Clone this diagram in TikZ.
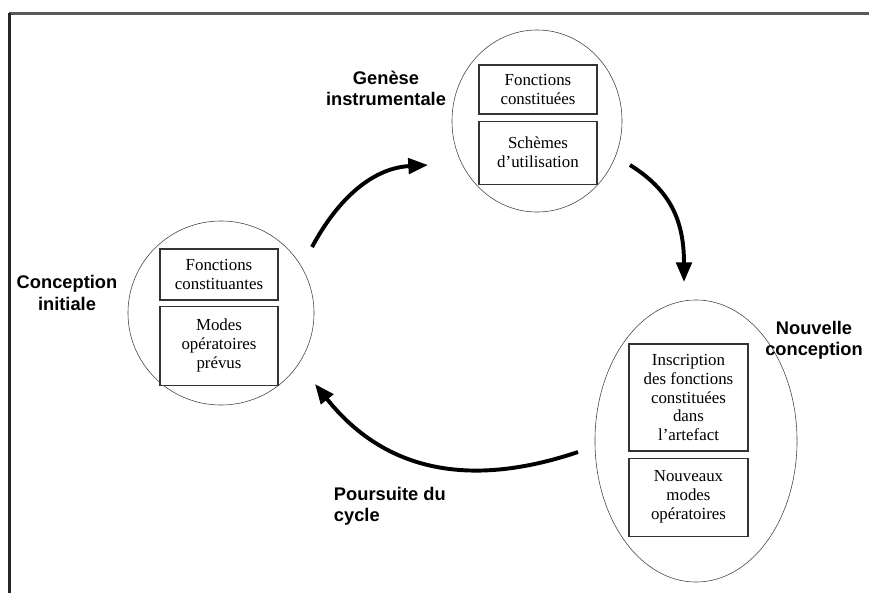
\documentclass[tikz,border=0pt]{standalone}
\usepackage{fontspec}
\setmainfont{Liberation Serif}
\setsansfont{Liberation Sans}
\usetikzlibrary{arrows.meta}
\usetikzlibrary{positioning, shapes.geometric}
\tikzset{
    every node/.style={font=\fontsize{12}{13.5}\selectfont},
    phase node/.style={draw=black!75, thin, ellipse, inner sep=0pt},
    box node/.style={draw=black!80, fill=white, line width=0.8pt, align=center, inner sep=0pt, minimum width=2.95cm},
    title node/.style={font=\sffamily\bfseries\fontsize{13}{15}\selectfont, align=center}
}

\begin{document}
\begin{tikzpicture}[
            x = 0.025cm, % one pixel
            y = -0.025cm, % y runs downwards
            node distance = 0.125cm, % gap between the boxes
            cycle arrow/.style={line width=2.8pt, -{Triangle[length=14pt,width=11pt]}}
        ]

        \useasboundingbox (0,0) rectangle (869,593);

        % frame
        \draw[black!65, line width=1.5pt] (9,13.5) -- (869,13.5);
        \draw[black!85, line width=1.5pt] (9.5,13) -- (9.5,593);

        \node[phase node, minimum width=4.65cm, minimum height=4.6cm] (E1) at (221,313) {};
        \node[phase node, minimum width=4.25cm, minimum height=4.55cm] (E2) at (537,121) {};
        \node[phase node, minimum width=5.05cm, minimum height=7.05cm] (E3) at (696,441) {};

        \node[box node, minimum height=1.275cm] (b1) at (219,274.5) {Fonctions\\constituantes};
        \node[box node, minimum height=1.975cm] [below=of b1] (b2) {Modes\\opératoires\\prévus};

        \node[box node, minimum height=1.225cm] (b3) at (538,89.5) {Fonctions\\constituées};
        \node[box node, minimum height=1.575cm] [below=0.15cm of b3] (b4) {Schèmes\\d’utilisation};

        \node[box node, minimum width=2.975cm, minimum height=2.675cm] (b5) at (688.5,397.5) {Inscription\\des fonctions\\constituées\\dans\\l’artefact};
        \node[box node, minimum width=2.975cm, minimum height=1.95cm] [below=0.15cm of b5] (b6) {Nouveaux\\modes\\opératoires};

        \node[title node] (t1) at (67,293) {Conception\\initiale};
        \node[title node] (t2) at (386,88) {Genèse\\instrumentale};
        \node[title node] (t3) at (814,340) {Nouvelle\\conception};
        \node[title node, align=left, anchor=west] (t4) at (329,506) {Poursuite du\\cycle};

        \coordinate (a1) at (312,247);
        \coordinate (a2) at (428,165);
        \coordinate (a3) at (630,165);
        \coordinate (a4) at (684,282);
        \coordinate (a5) at (578,452);
        \coordinate (a6) at (315,384);

        \draw[cycle arrow] (a1) .. controls (340,195) and (375,168) .. (a2);
        \draw[cycle arrow] (a3) .. controls (670,190) and (684,220) .. (a4);
        \draw[cycle arrow] (a5) .. controls (480,485) and (390,478) .. (a6);

  \end{tikzpicture}
\end{document}
